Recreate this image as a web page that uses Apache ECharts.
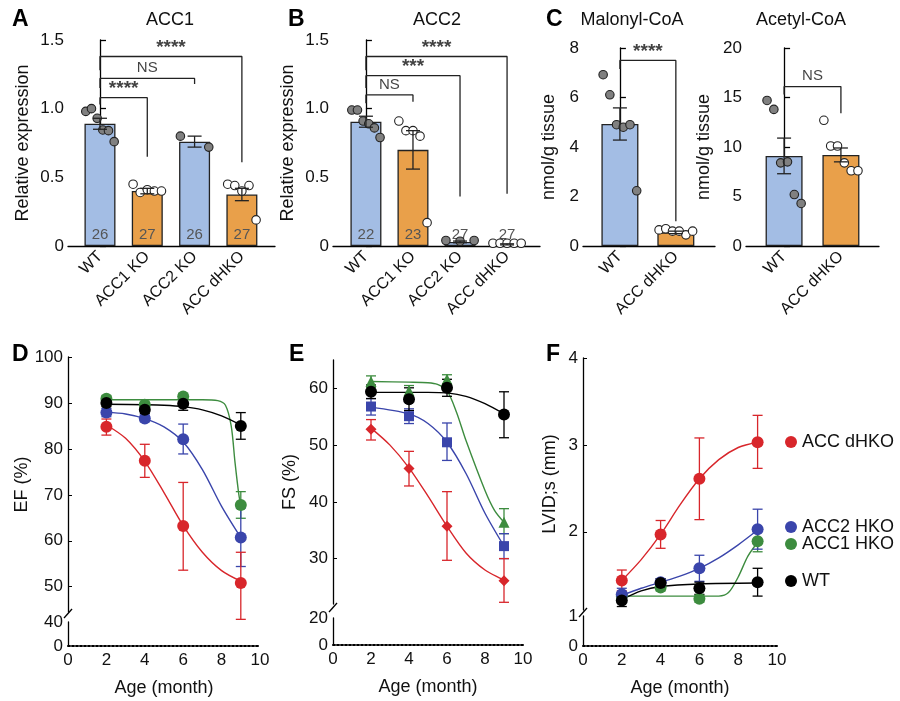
<!DOCTYPE html>
<html><head><meta charset="utf-8">
<script src="https://cdn.jsdelivr.net/npm/echarts@6/dist/echarts.min.js"></script>
<style>html,body{margin:0;padding:0;background:#fff}#c{width:900px;height:701px}</style>
</head><body><div id="c"></div>
<script>
// ---------- DATA ----------
const aCats = ['WT','ACC1 KO','ACC2 KO','ACC dHKO'];
const aMeans = [0.89, 0.40, 0.76, 0.375];
const aSem = [0.04, 0.02, 0.04, 0.045];
const aN = ['26','27','26','27'];
const aPts = [[0.98,1.0,0.93,0.845,0.84,0.76],[0.45,0.39,0.41,0.40,0.40],[0.80,0.72],[0.45,0.44,0.40,0.44,0.19]];
const aBrackets = [{a:0,b:1,h:1.08,l:1.03,r:0.65,t:'****'},{a:0,b:2,h:1.22,l:1.15,r:1.18,t:'NS'},{a:0,b:3,h:1.38,l:1.28,r:0.61,t:'****'}];

const bCats = ['WT','ACC1 KO','ACC2 KO','ACC dHKO'];
const bMeans = [0.905, 0.70, 0.03, 0.012];
const bSem = [0.04, 0.14, 0.006, 0.004];
const bN = ['22','23','27','27'];
const bPts = [[0.99,0.99,0.91,0.89,0.86,0.79],[0.91,0.84,0.84,0.80,0.17],[0.04,0.035,0.04],[0.02,0.02,0.02,0.02,0.02]];
const bBrackets = [{a:0,b:1,h:1.10,l:1.04,r:1.05,t:'NS'},{a:0,b:2,h:1.24,l:1.15,r:0.36,t:'***'},{a:0,b:3,h:1.38,l:1.28,r:0.38,t:'****'}];

const cCats = ['WT','ACC dHKO'];
const malMeans = [4.93, 0.55];
const malSem = [0.65, 0.05];
const malPts = [[6.92,6.11,4.9,4.8,4.9,2.23],[0.65,0.7,0.6,0.6,0.45,0.6]];
const malBrackets = [{a:0,b:1,h:7.5,l:7.15,r:1.0,t:'****'}];
const aceMeans = [9.1, 9.2];
const aceSem = [1.8, 0.7];
const acePts = [[14.7,13.8,8.4,8.5,5.2,4.3],[12.7,10.1,10.1,8.4,7.6,7.6]];
const aceBrackets = [{a:0,b:1,h:16.1,l:15.3,r:13.4,t:'NS'}];

const ages = [2,4,6,9];
// D: EF (%)
const dRed = [84.8,77.4,63.2,50.8], dRedHi=[86.5,81.0,72.7,57.5], dRedLo=[83.0,73.8,53.6,42.9];
const dBlue = [87.9,86.6,82.1,60.7], dBlueHi=[88.8,87.3,85.4,67.1], dBlueLo=[87.0,85.9,78.9,54.4];
const dGreen = [90.9,89.6,91.4,67.8], dGreenHi=[91.6,90.2,92.0,70.7], dGreenLo=[90.2,89.0,90.8,64.9];
const dBlack = [90.0,88.5,89.8,85.0], dBlackHi=[90.8,89.3,91.2,87.9], dBlackLo=[89.2,87.7,88.4,82.1];
const dRedCurve = [[2,85.2],[3,82.3],[4,77.3],[5,70.5],[6,63.3],[7,57.5],[8,53.5],[9,51.2]];
const dBlueCurve = [[2,88],[3,87.6],[4,86.6],[5,84.8],[6,81.5],[7,75.5],[8,67.5],[9,60.7]];
const dGreenCurve = [[2,90.7],[5,90.7],[7,90.7],[7.8,90.5],[8.2,89.5],[8.5,85],[8.7,77],[8.9,70],[9,67.8]];
const dBlackCurve = [[2,89.7],[4,89.6],[5,89.5],[6,89.2],[7,88.5],[8,87.2],[9,85.2]];
// E: FS (%)
const eRed = [52.8,45.9,35.7,26.1], eRedHi=[54.5,48.9,41.8,30.0], eRedLo=[50.9,42.8,29.7,22.3];
const eBlue = [56.8,55.1,50.5,32.2], eBlueHi=[58.2,56.4,53.9,34.4], eBlueLo=[55.3,53.8,47.3,30.0];
const eGreen = [61.2,59.6,61.6,36.4], eGreenHi=[62.2,60.5,62.4,38.8], eGreenLo=[60.2,58.7,60.8,34.4];
const eBlack = [59.4,58.1,60.1,55.4], eBlackHi=[60.6,60.1,61.6,59.4], eBlackLo=[58.2,56.1,58.6,51.3];
const eRedCurve = [[2,53],[3,50],[4,46],[5,41],[6,35.7],[7,31],[8,28],[9,26.2]];
const eBlueCurve = [[2,56.7],[4,55.5],[5,53.8],[6,50.5],[7,45],[8,38],[9,32.2]];
const eGreenCurve = [[2,61.2],[4,61.1],[5,61],[5.5,60.7],[6,59.6],[6.5,55.8],[7,50.8],[8,42],[8.5,38.5],[9,36.4]];
const eBlackCurve = [[2,59.3],[4,59.3],[5,59.3],[6,59.2],[7,58.6],[8,57.3],[9,55.5]];
// F: LVID;s (mm)
const fRed = [1.44,1.97,2.61,3.03], fRedHi=[1.56,2.13,3.08,3.34], fRedLo=[1.32,1.81,2.14,2.73];
const fBlue = [1.28,1.42,1.58,2.03], fBlueHi=[1.35,1.46,1.73,2.26], fBlueLo=[1.21,1.38,1.43,1.80];
const fGreen = [1.26,1.36,1.23,1.89], fGreenHi=[1.30,1.40,1.27,2.01], fGreenLo=[1.22,1.32,1.19,1.77];
const fBlack = [1.21,1.41,1.35,1.42], fBlackHi=[1.28,1.46,1.42,1.58], fBlackLo=[1.14,1.36,1.28,1.26];
const fRedCurve = [[2,1.44],[3,1.68],[4,1.97],[5,2.31],[6,2.61],[7,2.83],[8,2.97],[9,3.03]];
const fBlueCurve = [[2,1.27],[3,1.35],[4,1.42],[5,1.49],[6,1.58],[7,1.70],[8,1.85],[9,2.02]];
const fGreenCurve = [[2,1.26],[4,1.26],[6,1.26],[7,1.26],[7.5,1.30],[8,1.48],[8.5,1.72],[9,1.88]];
const fBlackCurve = [[2,1.22],[3,1.32],[4,1.37],[6,1.40],[9,1.41]];
const fLegend = ['ACC dHKO','ACC2 HKO','ACC1 HKO','WT'];

// ---------- STYLE ----------
const FONT = 'Liberation Sans, Arial, sans-serif';
const BLUEBAR = '#a3bde4', ORANGEBAR = '#e9a04a';
const RED = '#d8262b', BLUE = '#3a45ab', GREEN = '#3d8c3f', BLACK = '#000';
const chart = echarts.init(document.getElementById('c'));
const grids = [], xAxes = [], yAxes = [], series = [];
const axLine = {lineStyle:{color:'#000',width:1.3}};
const lab = {color:'#111',fontSize:16,fontFamily:FONT};

function errRender(cap){
  return function(params, api){
    const x = api.value(0), lo = api.value(1), hi = api.value(2);
    const p1 = api.coord([x, lo]), p2 = api.coord([x, hi]);
    const st = {stroke: api.visual('color'), lineWidth: 1.3};
    return {type:'group', children:[
      {type:'line', shape:{x1:p1[0],y1:p1[1],x2:p2[0],y2:p2[1]}, style:st},
      {type:'line', shape:{x1:p1[0]-cap,y1:p1[1],x2:p1[0]+cap,y2:p1[1]}, style:st},
      {type:'line', shape:{x1:p2[0]-cap,y1:p2[1],x2:p2[0]+cap,y2:p2[1]}, style:st}]};
  };
}

function barPanel(g){
  const gi = grids.length;
  grids.push({left:g.left, top:g.top, width:g.width, height:g.height});
  xAxes.push({type:'value', gridIndex:gi, min:g.xmin, max:g.xmax, splitLine:{show:false},
    axisLine:axLine, axisTick:{show:false},
    axisLabel:Object.assign({}, lab, {customValues:g.cats.map((c,i)=>i), rotate:45, margin:8, fontSize:16,
      formatter:v=>g.cats[Math.round(v)]})});
  yAxes.push({type:'value', gridIndex:gi, min:0, max:g.ymax, interval:g.yint, splitLine:{show:false},
    axisLine:Object.assign({show:true},axLine), axisTick:{show:true, inside:true, length:6, lineStyle:{color:'#000',width:1.3}},
    axisLabel:Object.assign({}, lab, {margin:4, fontSize:17, formatter:g.fmt}),
    name:g.yname, nameLocation:'middle', nameGap:g.nameGap, nameTextStyle:{fontSize:18,fontFamily:FONT,color:'#111'}});
  series.push({type:'bar', xAxisIndex:gi, yAxisIndex:gi, barWidth:g.barW,
    data:g.means.map((m,i)=>({value:[i,m], itemStyle:{color:g.colors[i]}})),
    itemStyle:{borderColor:'#222', borderWidth:1.3},
    label:{show:!!g.n, position:'insideBottom', distance:4, formatter:p=>g.n?g.n[p.dataIndex]:'', color:'#555', fontSize:15, fontFamily:'Liberation Sans Narrow, '+FONT},
    z:2});
  const pts = [];
  g.pts.forEach((arr,i)=>{
    const n = arr.length;
    arr.forEach((v,j)=>{
      const off = n===1?0:(j - (n-1)/2) / (n-1) * 0.6;
      pts.push({value:[i+off, v], itemStyle:{color:g.colors[i]===BLUEBAR?'#808080':'#fff'}});
    });
  });
  series.push({type:'scatter', xAxisIndex:gi, yAxisIndex:gi, symbolSize:8.5, data:pts,
    itemStyle:{borderColor:'#222', borderWidth:1.1, opacity:1}, z:4});
  series.push({type:'custom', xAxisIndex:gi, yAxisIndex:gi, renderItem:errRender(g.cap),
    data:g.means.map((m,i)=>[i, m-g.sem[i], m+g.sem[i]]), itemStyle:{color:'#222'}, z:5});
  g.brackets.forEach(b=>{
    series.push({type:'line', xAxisIndex:gi, yAxisIndex:gi, symbol:'none', silent:true,
      lineStyle:{color:'#222', width:1.3}, z:3,
      data:[[b.a,b.l],[b.a,b.h],[b.b,b.h],[b.b,b.r]]});
    series.push({type:'scatter', xAxisIndex:gi, yAxisIndex:gi, symbolSize:0, silent:true,
      data:[[(b.a+b.b)/2, b.h]],
      label:{show:true, position:'top', distance:b.t==='NS'?3:-1, formatter:b.t, color:'#111',
        fontFamily:FONT, fontSize:b.t==='NS'?15:19, fontWeight:b.t==='NS'?'normal':'bold'}});
  });
}

barPanel({left:68, top:40, width:207, height:206, xmin:-0.676, xmax:3.70, ymax:1.5, yint:0.5,
  fmt:v=>v===0?'0':v.toFixed(1), cats:aCats, means:aMeans, sem:aSem, n:aN, pts:aPts, brackets:aBrackets,
  colors:[BLUEBAR,ORANGEBAR,BLUEBAR,ORANGEBAR], barW:31, cap:7, yname:'Relative expression', nameGap:36});
barPanel({left:333, top:40, width:207, height:206, xmin:-0.70, xmax:3.70, ymax:1.5, yint:0.5,
  fmt:v=>v===0?'0':v.toFixed(1), cats:bCats, means:bMeans, sem:bSem, n:bN, pts:bPts, brackets:bBrackets,
  colors:[BLUEBAR,ORANGEBAR,BLUEBAR,ORANGEBAR], barW:31, cap:7, yname:'Relative expression', nameGap:36});
barPanel({left:583, top:48, width:132, height:198, xmin:-0.66, xmax:1.70, ymax:8, yint:2,
  fmt:v=>String(v), cats:cCats, means:malMeans, sem:malSem, n:null, pts:malPts, brackets:malBrackets,
  colors:[BLUEBAR,ORANGEBAR], barW:37, cap:7, yname:'nmol/g tissue', nameGap:25});
barPanel({left:746, top:48, width:133, height:198, xmin:-0.67, xmax:1.67, ymax:20, yint:5,
  fmt:v=>String(v), cats:cCats, means:aceMeans, sem:aceSem, n:null, pts:acePts, brackets:aceBrackets,
  colors:[BLUEBAR,ORANGEBAR], barW:37, cap:7, yname:'nmol/g tissue', nameGap:33});

function linePanel(g){
  const gi = grids.length;
  grids.push({left:g.left, top:g.top, width:g.width, height:g.height});
  xAxes.push({type:'value', gridIndex:gi, min:0, max:10, show:false});
  yAxes.push({type:'value', gridIndex:gi, min:g.min, max:g.max, splitLine:{show:false},
    axisLine:Object.assign({show:true},axLine), axisTick:{show:true, inside:true, length:4, customValues:g.ticks, lineStyle:{color:'#000'}},
    axisLabel:Object.assign({}, lab, {customValues:g.ticks, margin:5, fontSize:17}),
    name:g.yname, nameLocation:'middle', nameGap:g.nameGap, nameTextStyle:{fontSize:18,fontFamily:FONT,color:'#111'}});
  const si = grids.length;
  grids.push({left:g.left, top:g.stubTop, width:g.width, height:g.stubH});
  xAxes.push({type:'value', gridIndex:si, min:0, max:10, interval:2, splitLine:{show:false},
    axisLine:{lineStyle:{color:'#000', width:2, type:[2,2]}}, axisTick:{show:false},
    axisLabel:Object.assign({}, lab, {fontSize:17, margin:6}),
    name:'Age (month)', nameLocation:'middle', nameGap:33, nameTextStyle:{fontSize:18,fontFamily:FONT,color:'#111'}});
  yAxes.push({type:'value', gridIndex:si, min:0, max:g.stubMax, splitLine:{show:false},
    axisLine:Object.assign({show:true},axLine), axisTick:{show:false},
    axisLabel:Object.assign({}, lab, {customValues:[0,g.stubMax], margin:5, fontSize:17})});
  g.groups.forEach(s=>{
    series.push({type:'line', xAxisIndex:gi, yAxisIndex:gi, data:s.curve, smooth:0.3,
      symbol:'none', lineStyle:{color:s.color, width:1.4}, z:2, silent:true});
    series.push({type:'custom', xAxisIndex:gi, yAxisIndex:gi, renderItem:errRender(5),
      data:ages.map((a,i)=>[a, s.lo[i], s.hi[i]]), itemStyle:{color:s.color}, z:3});
    series.push({type:'scatter', xAxisIndex:gi, yAxisIndex:gi, data:ages.map((a,i)=>[a, s.mean[i]]),
      symbol:s.sym||'circle', symbolSize:s.size||12, itemStyle:{color:s.color, opacity:1}, z:4});
  });
}
linePanel({left:68, top:357, width:192, height:255, min:44.5, max:100, ticks:[50,60,70,80,90,100],
  stubTop:622, stubH:24, stubMax:40, yname:'EF (%)', nameGap:36, groups:[
  {mean:dGreen, hi:dGreenHi, lo:dGreenLo, curve:dGreenCurve, color:GREEN},
  {mean:dBlue, hi:dBlueHi, lo:dBlueLo, curve:dBlueCurve, color:BLUE},
  {mean:dRed, hi:dRedHi, lo:dRedLo, curve:dRedCurve, color:RED},
  {mean:dBlack, hi:dBlackHi, lo:dBlackLo, curve:dBlackCurve, color:BLACK}]});
linePanel({left:333, top:360, width:190, height:244, min:22, max:65, ticks:[30,40,50,60],
  stubTop:618, stubH:27, stubMax:20, yname:'FS (%)', nameGap:34, groups:[
  {mean:eGreen, hi:eGreenHi, lo:eGreenLo, curve:eGreenCurve, color:GREEN, sym:'triangle', size:11},
  {mean:eBlue, hi:eBlueHi, lo:eBlueLo, curve:eBlueCurve, color:BLUE, sym:'rect', size:10},
  {mean:eRed, hi:eRedHi, lo:eRedLo, curve:eRedCurve, color:RED, sym:'diamond', size:11},
  {mean:eBlack, hi:eBlackHi, lo:eBlackLo, curve:eBlackCurve, color:BLACK}]});
linePanel({left:583, top:358, width:194, height:252, min:1.1, max:4, ticks:[2,3,4],
  stubTop:616, stubH:30, stubMax:1, yname:'LVID;s (mm)', nameGap:24, groups:[
  {mean:fRed, hi:fRedHi, lo:fRedLo, curve:fRedCurve, color:RED},
  {mean:fGreen, hi:fGreenHi, lo:fGreenLo, curve:fGreenCurve, color:GREEN},
  {mean:fBlue, hi:fBlueHi, lo:fBlueLo, curve:fBlueCurve, color:BLUE},
  {mean:fBlack, hi:fBlackHi, lo:fBlackLo, curve:fBlackCurve, color:BLACK}]});

// ---------- TEXT / DECOR ----------
const letterStyle = {fontSize:23, fontWeight:'bold', fontFamily:FONT, fill:'#000'};
const titleStyle = {fontSize:18, fontFamily:FONT, fill:'#111'};
const graphic = [];
[['A',12,8],['B',288,8],['C',546,8],['D',12,343],['E',289,343],['F',546,343]].forEach(l=>
  graphic.push({type:'text', left:l[1], top:l[2], style:Object.assign({text:l[0]}, letterStyle)}));
[['ACC1',170],['ACC2',437],['Malonyl-CoA',632],['Acetyl-CoA',801]].forEach(t=>
  graphic.push({type:'text', x:t[1], y:11, style:Object.assign({text:t[0], align:'center'}, titleStyle)}));
// axis break marks
[[68,612],[333,606],[583,611]].forEach(b=>
  graphic.push({type:'line', shape:{x1:b[0]-4,y1:b[1]+6,x2:b[0]+4,y2:b[1]-3}, style:{stroke:'#000', lineWidth:1.3}}));
const legColors = [RED, BLUE, GREEN, BLACK];
[442,527,544,581].forEach((y,i)=>{
  graphic.push({type:'circle', shape:{cx:791, cy:y, r:6}, style:{fill:legColors[i]}});
  graphic.push({type:'text', x:802, y:y, style:{text:fLegend[i], fontSize:18, fontFamily:FONT, fill:'#111', verticalAlign:'middle'}});
});

chart.setOption({animation:false, grid:grids, xAxis:xAxes, yAxis:yAxes, series:series, graphic:graphic});
</script></body></html>
